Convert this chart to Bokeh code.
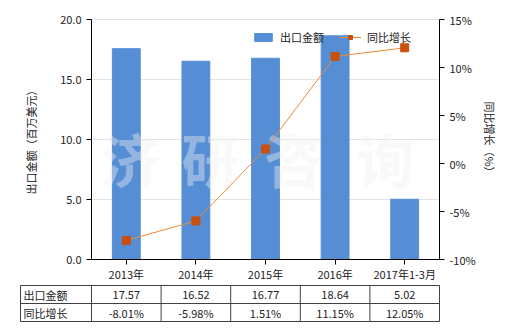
from bokeh.plotting import figure
from bokeh.models import Range1d, LinearAxis, Legend, LegendItem, FixedTicker, NumeralTickFormatter, CustomJSTickFormatter, ColumnDataSource
from bokeh.embed import file_html
from bokeh.resources import INLINE
from bokeh.core.properties import value

categories = ["2013年", "2014年", "2015年", "2016年", "2017年1-3月"]
export_value = [17.57, 16.52, 16.77, 18.64, 5.02]
yoy_growth = [-8.01, -5.98, 1.51, 11.15, 12.05]
value_labels = ["17.57", "16.52", "16.77", "18.64", "5.02"]
growth_labels = ["-8.01%", "-5.98%", "1.51%", "11.15%", "12.05%"]
row_names = ["出口金额", "同比增长"]
left_ticks = [0, 5, 10, 15, 20]
right_ticks = [-10, -5, 0, 5, 10, 15]

FONT = "Noto Sans CJK SC"
BAR = "#558ED5"
LINE = "#EE8A3A"
MARK = "#C9500E"
TXT = "#222222"

W, H = 520, 330
FL, FR = 91, 439      # plot area (pixels) left / right
FT, FB = 19, 259      # plot area top / bottom
n = len(categories)
unit = (FR - FL) / n
xs = [i + 0.5 for i in range(n)]

# ranges chosen so that plot area maps onto the pixel box above, table below it
ppy = (FB - FT) / 20.0
y_rng = Range1d(-(H - FB) / ppy, 20 + FT / ppy)
ppp = (FB - FT) / 25.0
pct_rng = Range1d(-10 - (H - FB) / ppp, 15 + FT / ppp)

p = figure(x_range=Range1d(-FL / unit, (W - FL) / unit), y_range=y_rng,
           width=W, height=H, frame_width=W, frame_height=H,
           x_axis_location=None, y_axis_location=None,
           output_backend="svg", toolbar_location=None,
           min_border=0, min_border_left=0, min_border_right=0,
           min_border_top=0, min_border_bottom=0)
p.extra_y_ranges = {"pct": pct_rng, "tbl": Range1d(H, 0)}
p.outline_line_color = None
p.grid.visible = False

# horizontal grid lines
gt = left_ticks[1:]
p.segment(x0=[0] * len(gt), x1=[n] * len(gt), y0=gt, y1=gt, line_color="#e3e3e3", line_width=1)

bars = p.vbar(x=xs, top=export_value, width=0.4, color=BAR)

# watermark
wm = ColumnDataSource(dict(x=[0.56, 1.71, 2.9, 4.22], y=[8.5] * 4, t=["济", "研", "咨", "询"]))
p.text(x="x", y="y", text="t", source=wm, text_font=value(FONT), text_font_size="58px",
       text_font_style="bold", text_color="#f0f0f0", text_alpha=0.4,
       text_align="center", text_baseline="middle")

ln = p.line(x=xs, y=yoy_growth, y_range_name="pct", line_color=LINE, line_width=1)
mk = p.scatter(x=xs, y=yoy_growth, y_range_name="pct", marker="square", size=8,
               fill_color=MARK, line_color=MARK)

lax = LinearAxis(ticker=FixedTicker(ticks=left_ticks), formatter=NumeralTickFormatter(format="0.0"),
                 axis_label="出口金额（百万美元）", axis_label_standoff=18,
                 fixed_location=0, bounds=(0, 20))
p.add_layout(lax, "left")

rax = LinearAxis(y_range_name="pct", ticker=FixedTicker(ticks=right_ticks),
                 formatter=CustomJSTickFormatter(code="return tick + '%';"),
                 axis_label="同比增长（%）", axis_label_standoff=3,
                 fixed_location=n, bounds=(-10, 15))
p.add_layout(rax, "right")

xax = LinearAxis(ticker=FixedTicker(ticks=xs),
                 formatter=CustomJSTickFormatter(args=dict(cats=categories),
                                                 code="return cats[Math.round(tick - 0.5)];"),
                 fixed_location=0, bounds=(0, n))
p.add_layout(xax, "below")

for a in [xax, lax, rax]:
    a.axis_line_color = "black"
    a.major_tick_line_color = "black"
    a.major_tick_in = 0
    a.major_tick_out = 5
    a.minor_tick_line_color = None
    a.major_label_text_font = FONT
    a.major_label_text_font_size = "11px"
    a.major_label_text_color = TXT
    a.axis_label_text_font = FONT
    a.axis_label_text_font_size = "11px"
    a.axis_label_text_font_style = "normal"
    a.axis_label_text_color = TXT
xax.major_label_standoff = 1

legend = Legend(items=[LegendItem(label="出口金额", renderers=[bars]),
                       LegendItem(label="同比增长", renderers=[ln, mk])],
                orientation="horizontal", location=(252, 285),
                background_fill_alpha=0, border_line_color=None,
                padding=0, margin=0, spacing=15, glyph_width=22, glyph_height=10,
                label_standoff=6, label_height=12, label_text_font=FONT,
                label_text_font_size="11px", label_text_color=TXT)
p.add_layout(legend, "center")

# data table under the chart
row_y = [285, 303, 321]
x_left = (20 - FL) / unit
p.segment(x0=[x_left] * 3, x1=[n] * 3, y0=row_y, y1=row_y, y_range_name="tbl",
          line_color="#404040", line_width=1)
vx = [x_left] + list(range(0, n + 1))
p.segment(x0=vx, x1=vx, y0=[row_y[0]] * len(vx), y1=[row_y[-1]] * len(vx), y_range_name="tbl",
          line_color="#404040", line_width=1)

mid1 = (row_y[0] + row_y[1]) / 2
mid2 = (row_y[1] + row_y[2]) / 2
p.text(x=xs, y=[mid1] * n, text=value_labels, y_range_name="tbl", text_font=value(FONT),
       text_font_size="11px", text_color=TXT, text_align="center", text_baseline="middle")
p.text(x=xs, y=[mid2] * n, text=growth_labels, y_range_name="tbl", text_font=value(FONT),
       text_font_size="11px", text_color=TXT, text_align="center", text_baseline="middle")
p.text(x=[x_left + 3 / unit] * 2, y=[mid1, mid2], text=row_names, y_range_name="tbl",
       text_font=value(FONT), text_font_size="11px", text_color=TXT,
       text_align="left", text_baseline="middle")

open("out.html", "w").write(file_html(p, INLINE))
